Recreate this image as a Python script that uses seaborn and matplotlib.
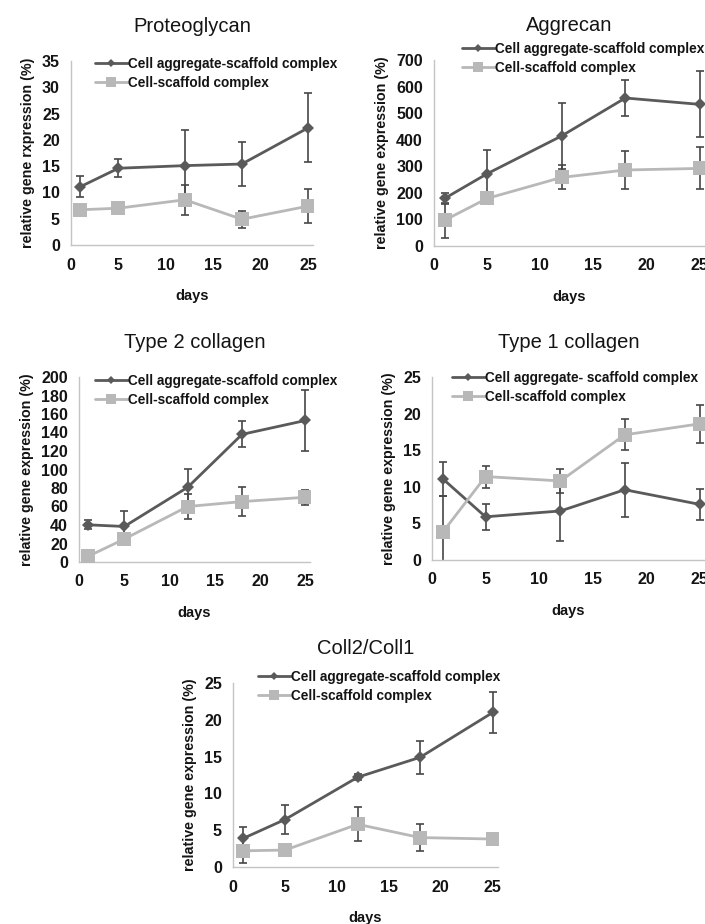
import matplotlib
matplotlib.use("Agg")
import matplotlib.pyplot as plt
import seaborn as sns
import pandas as pd

days = [1, 5, 12, 18, 25]

# Proteoglycan
prot_agg = [11.1, 14.6, 15.1, 15.4, 22.3]
prot_agg_err = [2.0, 1.7, 6.7, 4.2, 6.6]
prot_scaf = [6.7, 7.0, 8.6, 4.9, 7.4]
prot_scaf_err = [0.0, 0.0, 2.9, 1.6, 3.2]

# Aggrecan
aggr_agg = [179, 272, 414, 557, 533]
aggr_agg_err = [20, 89, 123, 68, 124]
aggr_scaf = [97, 179, 258, 286, 292]
aggr_scaf_err = [66, 0, 45, 73, 79]

# Type 2 collagen
t2_agg = [40.2, 38.4, 80.8, 138, 153]
t2_agg_err = [5, 17, 20, 14, 33]
t2_scaf = [6.1, 24.8, 60, 65.3, 70]
t2_scaf_err = [0, 0, 13, 16, 8]

# Type 1 collagen
t1_agg = [11.1, 5.9, 6.7, 9.6, 7.6]
t1_agg_err = [2.3, 1.8, 4.1, 3.7, 2.1]
t1_scaf = [3.8, 11.4, 10.8, 17.1, 18.6]
t1_scaf_err = [4.9, 1.5, 1.7, 2.1, 2.6]

# Coll2/Coll1
cc_agg = [3.9, 6.45, 12.2, 14.9, 21.0]
cc_agg_err = [1.6, 1.95, 0.4, 2.2, 2.8]
cc_scaf = [2.2, 2.3, 5.8, 4.0, 3.8]
cc_scaf_err = [1.6, 0, 2.3, 1.8, 0]

lab_agg = "Cell aggregate-scaffold complex"
lab_agg_t1 = "Cell aggregate- scaffold complex"
lab_scaf = "Cell-scaffold complex"
ylab = "relative gene expression (%)"
ylab_prot = "relative gene rxpression (%)"

x_ticks = [0, 5, 10, 15, 20, 25]

DARK = "#5a5a5a"
LIGHT = "#b8b8b8"
ERR = "#474747"
TXT = "#141414"

sns.set_style("white")
plt.rcParams["font.family"] = ["Liberation Sans", "DejaVu Sans"]

W, H = 705, 924
fig = plt.figure(figsize=(W / 100, H / 100), dpi=100)


def px_axes(left, right, top, bottom):
    return fig.add_axes([left / W, 1 - bottom / H, (right - left) / W, (bottom - top) / H])


def panel(ax, title, agg, agg_err, scaf, scaf_err, la, ylabel, yticks, leg_xy):
    df = pd.DataFrame({
        "day": days + days,
        "value": agg + scaf,
        "series": [la] * len(days) + [lab_scaf] * len(days),
    })
    sns.lineplot(data=df, x="day", y="value", hue="series", style="series",
                 markers={la: "D", lab_scaf: "s"}, dashes=False,
                 palette={la: DARK, lab_scaf: LIGHT}, linewidth=2.0,
                 markersize=9, mew=0, legend=False, ax=ax, zorder=3)
    lines = ax.get_lines()[:2]
    lines[0].set_markersize(6.5)
    lines[1].set_markersize(10)
    lines[1].set_zorder(4)

    # error bars sit under the markers
    ax.errorbar(days, agg, yerr=agg_err, fmt="none", ecolor=ERR,
                elinewidth=1.2, capsize=3, capthick=1.2, zorder=2)
    ax.errorbar(days, scaf, yerr=scaf_err, fmt="none", ecolor=ERR,
                elinewidth=1.2, capsize=3, capthick=1.2, zorder=2)

    ax.set_xlim(0, 25.5)
    ax.set_ylim(0, yticks[-1])
    ax.set_xticks(x_ticks)
    ax.set_yticks(yticks)
    ax.tick_params(length=0, labelsize=11.5, labelcolor=TXT)
    ax.tick_params(axis="x", pad=9)
    ax.tick_params(axis="y", pad=8)
    for t in ax.get_xticklabels() + ax.get_yticklabels():
        t.set_fontweight("bold")
    sns.despine(ax=ax)
    for s in ["left", "bottom"]:
        ax.spines[s].set_color("#c4c4c4")
        ax.spines[s].set_linewidth(1.0)

    ax.set_title(title, fontsize=14.5, color=TXT, pad=21)
    ax.set_xlabel("days", fontsize=10.5, fontweight="bold", color=TXT, labelpad=12)
    ax.set_ylabel(ylabel, fontsize=10.3, fontweight="bold", color=TXT, labelpad=5)

    leg = ax.legend(lines, [la, lab_scaf], loc="upper left", bbox_to_anchor=leg_xy,
                    frameon=False, borderpad=0, borderaxespad=0,
                    handlelength=2.4, handletextpad=0.05, labelspacing=0.35,
                    markerscale=0.7, prop={"size": 9.8, "weight": "bold"})
    for t in leg.get_texts():
        t.set_color(TXT)


ax1 = px_axes(71, 313, 61, 245)
panel(ax1, "Proteoglycan", prot_agg, prot_agg_err, prot_scaf, prot_scaf_err,
      lab_agg, ylab_prot, list(range(0, 36, 5)), (0.099, 1.022))

ax2 = px_axes(434, 705, 60, 246)
panel(ax2, "Aggrecan", aggr_agg, aggr_agg_err, aggr_scaf, aggr_scaf_err,
      lab_agg, ylab, list(range(0, 701, 100)), (0.103, 1.097))

ax3 = px_axes(79, 310, 377, 562)
panel(ax3, "Type 2 collagen", t2_agg, t2_agg_err, t2_scaf, t2_scaf_err,
      lab_agg, ylab, list(range(0, 201, 20)), (0.069, 1.016))

ax4 = px_axes(432, 705, 377, 560)
panel(ax4, "Type 1 collagen", t1_agg, t1_agg_err, t1_scaf, t1_scaf_err,
      lab_agg_t1, ylab, list(range(0, 26, 5)), (0.073, 1.033))

ax5 = px_axes(233, 498, 683, 867)
panel(ax5, "Coll2/Coll1", cc_agg, cc_agg_err, cc_scaf, cc_scaf_err,
      lab_agg, ylab, list(range(0, 26, 5)), (0.094, 1.071))

fig.savefig("out.png", dpi=100, facecolor="white")
